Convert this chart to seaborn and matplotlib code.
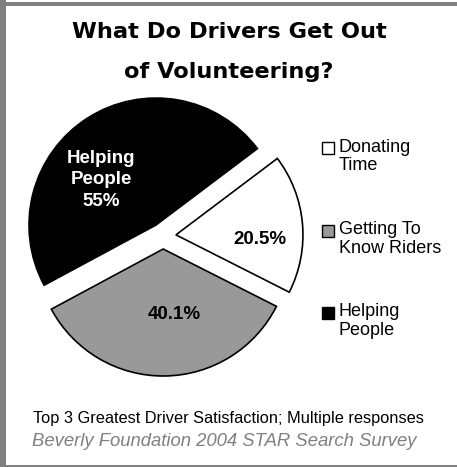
import matplotlib
matplotlib.use("Agg")
import matplotlib.pyplot as plt
from matplotlib.patches import Rectangle
import numpy as np
import seaborn as sns

# Survey results (multiple responses allowed)
categories = ["Donating\nTime", "Getting To\nKnow Riders", "Helping\nPeople"]
values = [20.5, 40.1, 55.0]
value_labels = ["20.5%", "40.1%", "Helping\nPeople\n55%"]
title = "What Do Drivers Get Out\nof Volunteering?"
note = "Top 3 Greatest Driver Satisfaction; Multiple responses"
source = "Beverly Foundation 2004 STAR Search Survey"

sns.set_theme(style="white", rc={"text.color": "black"})
plt.rcParams["font.family"] = ["Liberation Sans", "DejaVu Sans"]

colors = ["#ffffff", "#999999", "#000000"]
text_colors = ["black", "black", "white"]

W, H = 457, 467
fig = plt.figure(figsize=(W / 100, H / 100), dpi=100)
fig.patch.set_facecolor("white")
ax = fig.add_axes([0, 0, 1, 1])

cx, cy, r = 163, H - 236, 127
gap = 13  # explode distance in pixels
wedges, _ = ax.pie(
    values,
    colors=colors,
    startangle=37,
    counterclock=False,
    explode=[gap, gap, gap],
    center=(cx, cy),
    radius=r,
    wedgeprops=dict(edgecolor="black", linewidth=1.2),
    frame=True,
)
ax.set_xlim(0, W)
ax.set_ylim(0, H)
ax.set_aspect("equal")
ax.axis("off")

# value labels placed along each wedge's bisector
fracs = [0.66, 0.52, 0.56]
offsets = [-8, 9, 18]
spacing = [1.2, 1.2, 1.35]
for w, lab, f, off, tc, ls in zip(wedges, value_labels, fracs, offsets, text_colors, spacing):
    mid = np.deg2rad((w.theta1 + w.theta2) / 2 + off)
    x = w.center[0] + f * r * np.cos(mid)
    y = w.center[1] + f * r * np.sin(mid)
    ax.text(x, y, lab, ha="center", va="center", color=tc, fontsize=13.5,
            fontweight="bold", linespacing=ls)

# legend: square swatch + two-line label
cap_tops = [142, 225, 307]
for w, lab, top in zip(wedges, categories, cap_tops):
    yy = H - top
    ax.add_patch(Rectangle((322, yy - 12), 12, 12, facecolor=w.get_facecolor(),
                           edgecolor="black", linewidth=1))
    ax.text(339, yy + 3.5, lab, ha="left", va="top", fontsize=13, color="black",
            linespacing=1.15)

fig.text(229 / W, 1 - 51.5 / H, title, ha="center", va="center", color="black",
         fontsize=16.2, fontweight="bold", family="DejaVu Sans", linespacing=2.25)
fig.text(228 / W, 1 - 418 / H, note, ha="center", va="center", fontsize=11.8,
         color="black")
fig.text(224 / W, 1 - 442 / H, source, ha="center", va="center", fontsize=13.3,
         color="#808080", style="italic")

# gray frame on left, top and bottom
frame_col = "#808080"
fig.patches.append(Rectangle((0, 0), 6 / W, 1, transform=fig.transFigure,
                             facecolor=frame_col, edgecolor="none"))
fig.patches.append(Rectangle((0, 1 - 6 / H), 1, 4 / H, transform=fig.transFigure,
                             facecolor=frame_col, edgecolor="none"))
fig.patches.append(Rectangle((0, 0), 1, 2 / H, transform=fig.transFigure,
                             facecolor=frame_col, edgecolor="none"))

fig.savefig("out.png", dpi=100)
